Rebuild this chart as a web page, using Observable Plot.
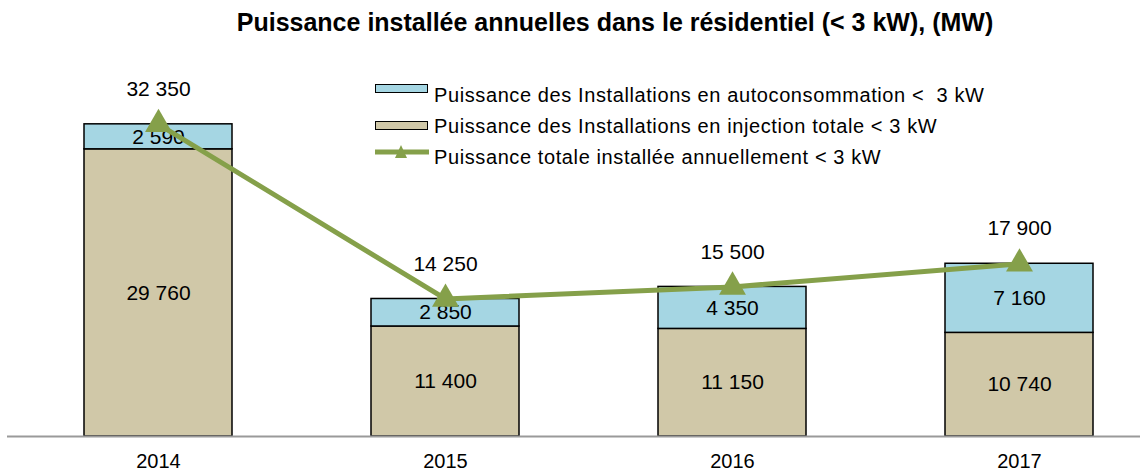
<!DOCTYPE html>
<html><head><meta charset="utf-8">
<script src="https://cdn.jsdelivr.net/npm/d3@7"></script>
<script src="https://cdn.jsdelivr.net/npm/@observablehq/plot@0.6"></script>
<style>
body{margin:0;background:#fff;font-family:"Liberation Sans",Arial,sans-serif;}
#wrap{position:relative;width:1140px;height:472px;overflow:hidden;}
#title{position:absolute;left:0;width:1230px;top:8px;text-align:center;font-weight:bold;font-size:25px;white-space:nowrap;color:#000;}
#chart{position:absolute;left:0;top:50px;}
.lg{position:absolute;font-size:20px;letter-spacing:0.6px;line-height:20px;white-space:pre;color:#000;}
.sw{position:absolute;box-sizing:border-box;border:1.5px solid #000;}
</style></head>
<body><div id="wrap">
<div id="title">Puissance installée annuelles dans le résidentiel (&lt; 3 kW), (MW)</div>
<div id="chart"></div>
<div id="legend"></div>
</div>
<script>
const years = ["2014", "2015", "2016", "2017"];
const injection = [29760, 11400, 11150, 10740];
const autoconso = [2590, 2850, 4350, 7160];
const total = [32350, 14250, 15500, 17900];
const seriesNames = [
  "Puissance des Installations en autoconsommation <  3 kW",
  "Puissance des Installations en injection totale < 3 kW",
  "Puissance totale installée annuellement < 3 kW"
];
const colors = ["#a5d6e3", "#d0c8a8", "#85a04a"];

const fmt = v => d3.format(",")(v).replace(/,/g, " ");

const stacked = [];
years.forEach((y, i) => {
  stacked.push({year: y, series: "inj", value: injection[i], order: 0});
  stacked.push({year: y, series: "auto", value: autoconso[i], order: 1});
});
const totals = years.map((y, i) => ({year: y, value: total[i]}));

const chart = Plot.plot({
  width: 1140,
  height: 422,
  marginLeft: 7,
  marginRight: 0,
  marginTop: 0,
  marginBottom: 36,
  style: {fontFamily: "Liberation Sans, Arial, sans-serif", background: "#fff", overflow: "visible"},
  x: {type: "band", domain: years, range: [14.5, 1162.5], paddingInner: 0.484, paddingOuter: 0.242, label: null},
  y: {domain: [0, 40000], axis: null},
  color: {domain: ["inj", "auto"], range: [colors[1], colors[0]]},
  marks: [
    Plot.barY(stacked, {x: "year", y: "value", fill: "series", order: "order", stroke: "#000", strokeWidth: 1.5}),
    Plot.text(stacked, Plot.stackY({x: "year", y: "value", order: "order", text: d => fmt(d.value), fontSize: 21, fill: "#000"})),
    Plot.ruleY([0], {stroke: "#9a9a9a", strokeWidth: 2}),
    Plot.line(totals, {x: "year", y: "value", stroke: colors[2], strokeWidth: 5}),
    Plot.dot(totals, {x: "year", y: "value", symbol: "triangle", r: 10, fill: colors[2], stroke: "none"}),
    Plot.text(totals, {x: "year", y: "value", text: d => fmt(d.value), dy: -35, fontSize: 21, fill: "#000"}),
    Plot.axisX({tickSize: 0, tickPadding: 17, fontSize: 20, label: null})
  ]
});
document.getElementById("chart").appendChild(chart);

const esc = s => s.replace(/</g, "&lt;");
const lg = document.getElementById("legend");
lg.innerHTML = `
<div class="sw" style="left:375px;top:84px;width:53px;height:9px;background:${colors[0]}"></div>
<div class="lg" style="left:434px;top:85px">${esc(seriesNames[0])}</div>
<div class="sw" style="left:375px;top:121px;width:53px;height:9px;background:${colors[1]}"></div>
<div class="lg" style="left:434px;top:116px">${esc(seriesNames[1])}</div>
<svg style="position:absolute;left:373px;top:143px" width="58" height="18">
  <line x1="2" x2="56" y1="9" y2="9" stroke="${colors[2]}" stroke-width="5"/>
  <path d="M28,2 L34,15 L22,15 Z" fill="${colors[2]}"/>
</svg>
<div class="lg" style="left:434px;top:147px">${esc(seriesNames[2])}</div>`;
</script>
</body></html>
